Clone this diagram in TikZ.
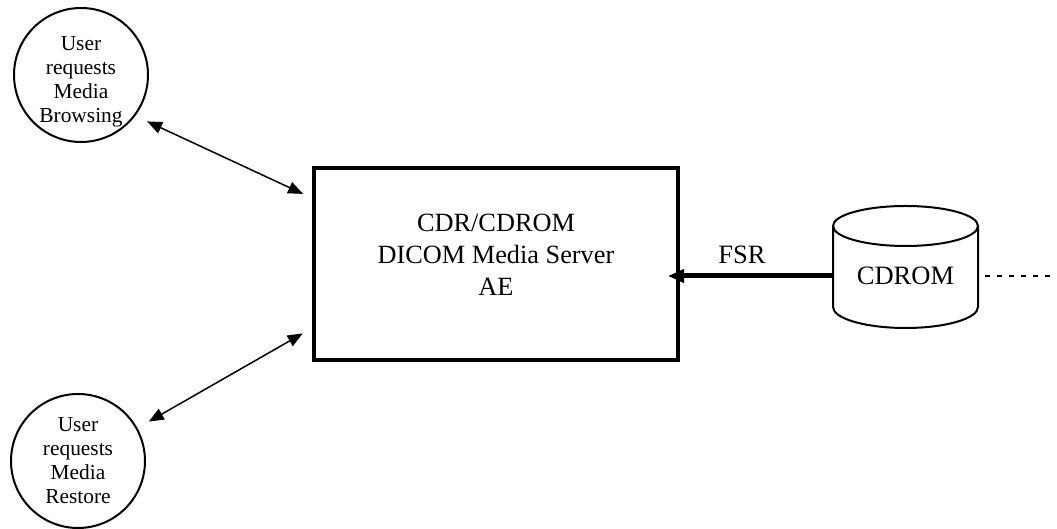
\documentclass[tikz,border=0pt]{standalone}
\usepackage{fontspec}
\setmainfont{Liberation Serif}
\usetikzlibrary{arrows.meta}

\tikzset{
  actor/.style={circle, draw, line width=2pt, minimum size=134pt, inner sep=0pt,
    align=center, font=\fontsize{21.4pt}{24pt}\selectfont},
  server/.style={rectangle, draw, line width=4pt, minimum width=364pt,
    minimum height=192pt, inner sep=0pt, outer sep=0pt},
  servertext/.style={align=center, font=\fontsize{26.3pt}{32pt}\selectfont},
  media/.style={inner sep=0pt, outer sep=0pt, minimum width=145pt,
    font=\fontsize{26.5pt}{30pt}\selectfont},
  cyl/.style={line width=2pt},
  biarrow/.style={line width=1.5pt,
    {Triangle[length=15pt,width=12pt]}-{Triangle[length=15pt,width=12pt]}},
  fsrarrow/.style={line width=5pt, -{Triangle[length=16pt,width=13pt]}},
  linkline/.style={line width=1.5pt, dash pattern=on 5pt off 7pt},
  lbl/.style={font=\fontsize{26.5pt}{30pt}\selectfont}
}

\begin{document}
\begin{tikzpicture}[x=1pt,y=1pt]
  \useasboundingbox (0,0) rectangle (1057,529);

  % main application entity
  \node[server] (srv) at (496,265) {};
  \node[servertext] (srvtext) at ([yshift=9pt]srv.center)
    {CDR/CDROM\\DICOM Media Server\\AE};

  % real-world activities
  \node[actor] (browse) at (81,454)
    {\rule{0pt}{28pt}User\\requests\\Media\\Browsing};
  \node[actor] (restore) at (78,68) {User\\requests\\Media\\Restore};

  % storage medium
  \node[media] (cd) at (905.5,253) {CDROM};
  \draw[cyl] ([yshift=50pt]cd.west) -- ([yshift=-31pt]cd.west)
    arc[start angle=180, end angle=360, x radius=72.5pt, y radius=21pt]
    -- ([yshift=50pt]cd.east);
  \draw[cyl] ([yshift=50pt]cd.center) ellipse[x radius=72.5pt, y radius=20pt];
  \coordinate (rightedge) at (1057,253);

  % connections
  \draw[biarrow, shorten <=13pt, shorten >=12pt]
    (browse.-37) -- ([yshift=65pt]srv.west);
  \draw[biarrow, shorten <=13pt, shorten >=13pt]
    (restore.29) -- ([yshift=-63pt]srv.west);
  \draw[fsrarrow] (cd.west) -- ([xshift=-10pt,yshift=-12pt]srv.east);
  \node[lbl] (fsr) at (742,274) {FSR};
  \draw[linkline] ([xshift=7pt]cd.east) -- (rightedge);
\end{tikzpicture}
\end{document}
